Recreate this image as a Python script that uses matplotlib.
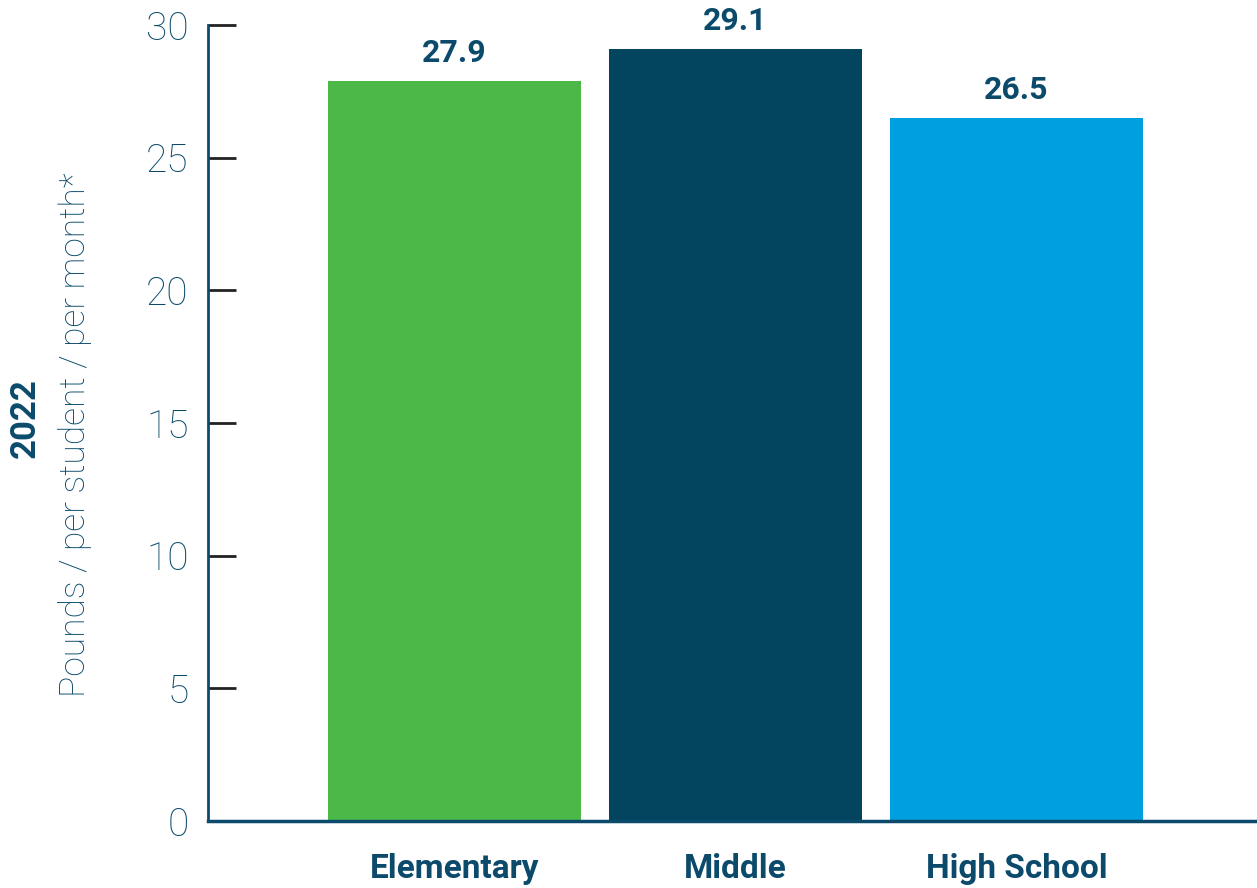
import matplotlib.pyplot as plt
import numpy as np

levels = ["Elementary", "Middle", "High School"]
pounds = [27.9, 29.1, 26.5]
bar_colors = ["#4cb848", "#03445f", "#009fdf"]
yticks = [0, 5, 10, 15, 20, 25, 30]

text_col = "#0b4a6b"
plt.rcParams['font.family'] = ['Roboto', 'DejaVu Sans']

fig = plt.figure(figsize=(12.57, 8.88), dpi=100)
ax = fig.add_axes([208 / 1257, 67 / 888, 1 - 208 / 1257, 796 / 888])

x = np.arange(len(levels))
bars = ax.bar(x, pounds, width=0.9, color=bar_colors, zorder=2)

for xi, v in zip(x, pounds):
    ax.annotate(f"{v}", (xi, v), xytext=(0, 9), textcoords="offset points",
                ha="center", va="bottom", fontsize=23, fontweight="bold",
                color=text_col)

ax.set_xlim(-0.877, 2.856)
ax.set_ylim(0, 30)
ax.set_yticks(yticks)
ax.set_yticklabels([str(t) for t in yticks], fontsize=28, fontweight="light",
                   color=text_col)
ax.tick_params(axis="y", direction="in", length=20, width=2, color="#222222",
               pad=14)
ax.set_xticks(x)
ax.set_xticklabels(levels, fontsize=24, fontweight="bold", color=text_col)
ax.tick_params(axis="x", length=0, pad=23)

for s in ["top", "right"]:
    ax.spines[s].set_visible(False)
ax.spines["left"].set_color("#0b4a6b")
ax.spines["left"].set_linewidth(2)
ax.spines["bottom"].set_color("#0b4a6b")
ax.spines["bottom"].set_linewidth(2.5)

fig.text(25 / 1257, 1 - 418 / 888, "2022", rotation=90, ha="center", va="center",
         fontsize=25, fontweight="bold", color=text_col)
fig.text(75 / 1257, 1 - 435 / 888, "Pounds / per student / per month*", rotation=90,
         ha="center", va="center", fontsize=25.5, fontweight="light", color=text_col)

fig.savefig("out.png", dpi=100)
